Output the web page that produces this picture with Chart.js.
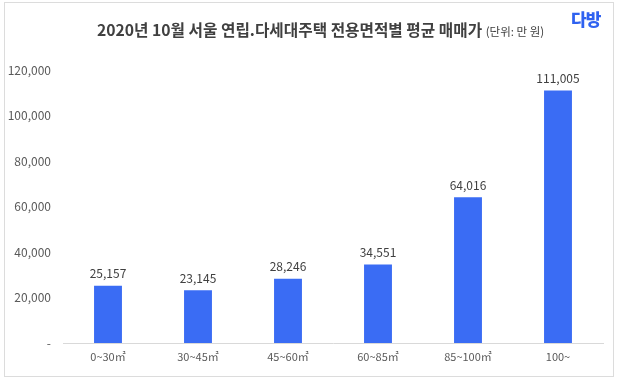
<!DOCTYPE html>
<html>
<head>
<meta charset="utf-8">
<script src="https://cdn.jsdelivr.net/npm/chart.js@4/dist/chart.umd.min.js"></script>
<style>
  html, body { margin: 0; padding: 0; background: #fff; }
  #wrap { position: relative; width: 618px; height: 381px; font-family: "Noto Sans CJK KR", "Noto Sans", sans-serif; }
  #frame { position: absolute; left: 4px; top: 2px; width: 608px; height: 373px; border: 1px solid #dcdcdc; pointer-events: none; }
  #title { position: absolute; left: 97px; top: 18px; white-space: nowrap; color: #404040; line-height: 22px; }
  #title .main { font-size: 15.7px; font-weight: bold; }
  #title .unit { font-size: 11.5px; font-weight: normal; }
  #logo { position: absolute; left: 571px; top: 8px; font-size: 17px; font-weight: 900; color: #2f62f0; letter-spacing: -1px; line-height: 22px; }
  canvas { position: absolute; left: 0; top: 0; }
</style>
</head>
<body>
<div id="wrap">
  <canvas id="c" width="618" height="381"></canvas>
  <div id="title"><span class="main">2020년 10월 서울 연립.다세대주택 전용면적별 평균 매매가</span> <span class="unit">(단위: 만 원)</span></div>
  <div id="logo">다방</div>
  <div id="frame"></div>
</div>
<script>
const categories = ["0~30㎡", "30~45㎡", "45~60㎡", "60~85㎡", "85~100㎡", "100~"];
const prices = [25157, 23145, 28246, 34551, 64016, 111005];
const yTicks = [0, 20000, 40000, 60000, 80000, 100000, 120000];

const FONT = '"Noto Sans CJK KR", "Noto Sans", sans-serif';

const labelPlugin = {
  id: 'valueLabels',
  afterDatasetsDraw(chart) {
    const ctx = chart.ctx;
    const meta = chart.getDatasetMeta(0);
    ctx.save();
    ctx.font = '12px ' + FONT;
    ctx.fillStyle = '#404040';
    ctx.textAlign = 'center';
    ctx.textBaseline = 'middle';
    meta.data.forEach((bar, i) => {
      ctx.fillText(prices[i].toLocaleString('en-US'), bar.x, bar.y - 12);
    });
    ctx.restore();
  }
};

new Chart(document.getElementById('c'), {
  type: 'bar',
  data: {
    labels: categories,
    datasets: [{
      data: prices,
      backgroundColor: '#3a6cf4',
      categoryPercentage: 1,
      barPercentage: 0.31
    }]
  },
  options: {
    responsive: false,
    animation: false,
    devicePixelRatio: 1,
    layout: { padding: { left: 0, right: 15, top: 70, bottom: 0 } },
    plugins: { legend: { display: false }, tooltip: { enabled: false }, title: { display: false } },
    scales: {
      x: {
        grid: { display: false, drawTicks: false },
        border: { display: true, color: '#d9d9d9', width: 1 },
        ticks: { color: '#595959', font: { family: FONT, size: 11 }, padding: 7, maxRotation: 0 },
        afterFit(s) { s.height = 38; }
      },
      y: {
        min: 0, max: 120000,
        grid: { display: false, drawTicks: false },
        border: { display: false },
        afterBuildTicks(s) { s.ticks = yTicks.map(v => ({ value: v })); },
        ticks: {
          color: '#595959',
          font: { family: FONT, size: 12 },
          padding: 12,
          callback: (v) => v === 0 ? '-' : Number(v).toLocaleString('en-US')
        },
        afterFit(s) { s.width = 63; }
      }
    }
  },
  plugins: [labelPlugin]
});
</script>
</body>
</html>
